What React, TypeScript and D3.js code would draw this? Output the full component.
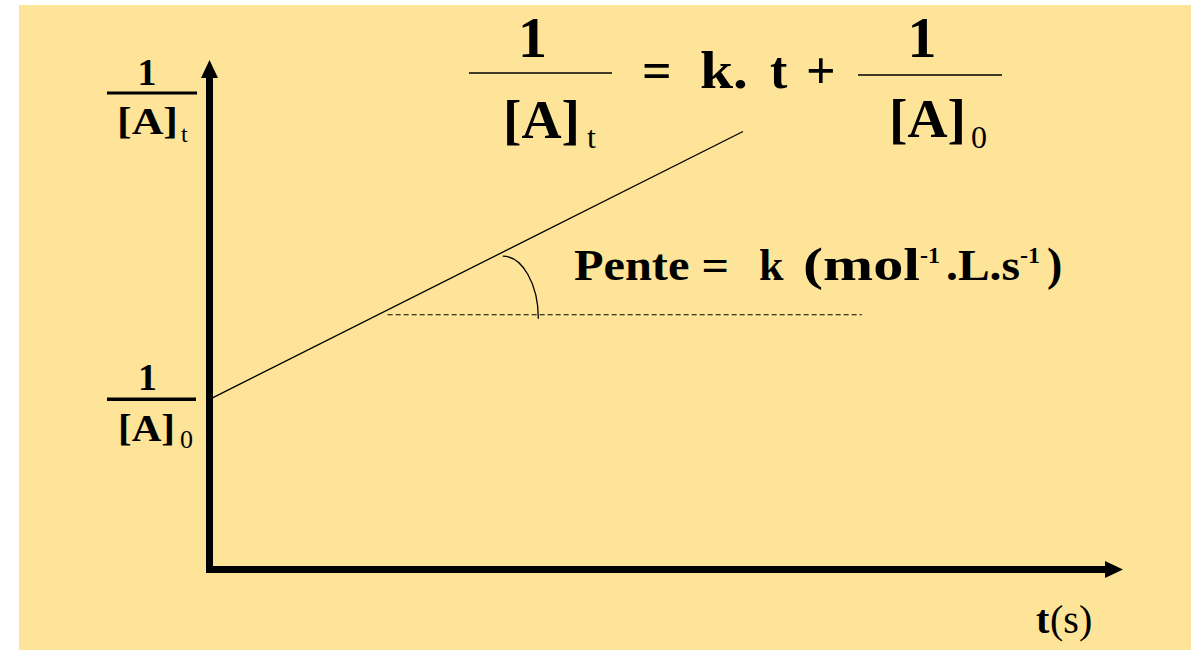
import React from "react";
import * as d3 from "d3";

// ---- data (chart units) ----
const tDomain = [0, 100];
const yDomain = [0, 100];
const invA0 = 33.4; // intercept 1/[A]0
const slopeK = 0.9; // slope k
const lineT = [0, 58.4];
const refLevel = 50; // dashed horizontal reference
const refT = [19.5, 71.4];
const angleArcT = [32.1, 36.0];

const W = 1191;
const H = 650;
const SERIF = "Liberation Serif";
const BG = "#FDE498";

export default function App() {
  const x = d3.scaleLinear().domain(tDomain).range([209.5, 1123]);
  const y = d3.scaleLinear().domain(yDomain).range([569.5, 60]);
  const f = (t: number) => invA0 + slopeK * t;

  const linePath = d3.line<number>().x((t) => x(t)).y((t) => y(f(t)))(lineT) as string;
  const refPath = d3.line<number>().x((t) => x(t)).y(() => y(refLevel))(refT) as string;

  const ax0 = x(angleArcT[0]);
  const ay0 = y(f(angleArcT[0])) + 4;
  const ax1 = x(angleArcT[1]);
  const ay1 = y(refLevel) + 4;
  const arcPath = `M${ax0},${ay0} A${ax1 - ax0},${ay1 - ay0} 0 0 1 ${ax1},${ay1}`;

  const xAxisY = y(0);
  const yAxisX = x(0);
  const arrowLen = 18;
  const arrowHalf = 8.5;
  const axisW = 7;

  const B = { fontFamily: SERIF, fontWeight: "bold", fill: "#000" } as any;
  const R = { fontFamily: SERIF, fontWeight: "normal", fill: "#000" } as any;
  const S = "spacingAndGlyphs";

  return (
    <svg
      width={W}
      height={H}
      style={{ position: "absolute", left: 0, top: 0 }}
      xmlns="http://www.w3.org/2000/svg"
    >
      <rect x={0} y={0} width={W} height={H} fill="#fff" />
      <rect x={19} y={5} width={W - 19} height={H - 5} fill={BG} />

      {/* axes */}
      <line x1={yAxisX} y1={xAxisY + axisW / 2} x2={yAxisX} y2={y(100) + arrowLen - 1} stroke="#000" strokeWidth={axisW} />
      <polygon
        points={`${yAxisX},${y(100)} ${yAxisX - arrowHalf},${y(100) + arrowLen} ${yAxisX + arrowHalf},${y(100) + arrowLen}`}
        fill="#000"
      />
      <line x1={yAxisX - axisW / 2} y1={xAxisY} x2={x(100) - arrowLen + 1} y2={xAxisY} stroke="#000" strokeWidth={axisW} />
      <polygon
        points={`${x(100)},${xAxisY} ${x(100) - arrowLen},${xAxisY - arrowHalf} ${x(100) - arrowLen},${xAxisY + arrowHalf}`}
        fill="#000"
      />

      {/* data line */}
      <path d={linePath} stroke="#000" strokeWidth={1.3} fill="none" />
      <path d={refPath} stroke="#000" strokeWidth={1} strokeDasharray="5,3" fill="none" />
      <path d={arcPath} stroke="#000" strokeWidth={1.3} fill="none" />

      {/* y label top: 1/[A]t */}
      <text x={147} y={85} fontSize={38} textAnchor="middle" {...B}>1</text>
      <line x1={107} x2={197} y1={93} y2={93} stroke="#000" strokeWidth={3} />
      <text x={117} y={134} fontSize={37} textLength={61} lengthAdjust={S} {...B}>[A]</text>
      <text x={181} y={142} fontSize={24} {...R}>t</text>

      {/* y label at intercept: 1/[A]0 */}
      <text x={147.5} y={390} fontSize={38} textAnchor="middle" {...B}>1</text>
      <line x1={107} x2={196} y1={y(invA0)} y2={y(invA0)} stroke="#000" strokeWidth={3.5} />
      <text x={118} y={441} fontSize={37} textLength={57} lengthAdjust={S} {...B}>[A]</text>
      <text x={180} y={448} fontSize={26} {...R}>0</text>

      {/* equation */}
      <text x={532.5} y={57} fontSize={58} textAnchor="middle" {...B}>1</text>
      <line x1={469} x2={612} y1={73} y2={73} stroke="#000" strokeWidth={1.5} />
      <text x={503} y={138} fontSize={54} textLength={77} lengthAdjust={S} {...B}>[A]</text>
      <text x={587} y={148} fontSize={32} {...R}>t</text>

      <text x={642} y={88} fontSize={52} {...B}>=</text>
      <text x={700} y={88} fontSize={52} textLength={48} lengthAdjust={S} {...B}>k.</text>
      <text x={770} y={88} fontSize={52} {...B}>t</text>
      <text x={806} y={88} fontSize={52} {...B}>+</text>

      <text x={922} y={57} fontSize={58} textAnchor="middle" {...B}>1</text>
      <line x1={858} x2={1002} y1={75} y2={75} stroke="#000" strokeWidth={1.5} />
      <text x={889} y={137} fontSize={54} textLength={77} lengthAdjust={S} {...B}>[A]</text>
      <text x={971} y={148} fontSize={32} {...R}>0</text>

      {/* slope annotation */}
      <text x={574} y={280} fontSize={44} textLength={155} lengthAdjust={S} {...B}>Pente =</text>
      <text x={759} y={280} fontSize={44} {...B}>k</text>
      <text x={803} y={280} fontSize={46} textLength={117} lengthAdjust={S} {...B}>(mol</text>
      <text x={920} y={263} fontSize={24} {...B}>-1</text>
      <text x={946} y={280} fontSize={44} textLength={74} lengthAdjust={S} {...B}>.L.s</text>
      <text x={1020} y={263} fontSize={24} {...B}>-1</text>
      <text x={1047} y={280} fontSize={46} {...B}>)</text>

      {/* x label */}
      <text x={1036} y={633} fontSize={40} {...B}>t</text>
      <text x={1050} y={633} fontSize={40} {...R}>(s)</text>
    </svg>
  );
}
